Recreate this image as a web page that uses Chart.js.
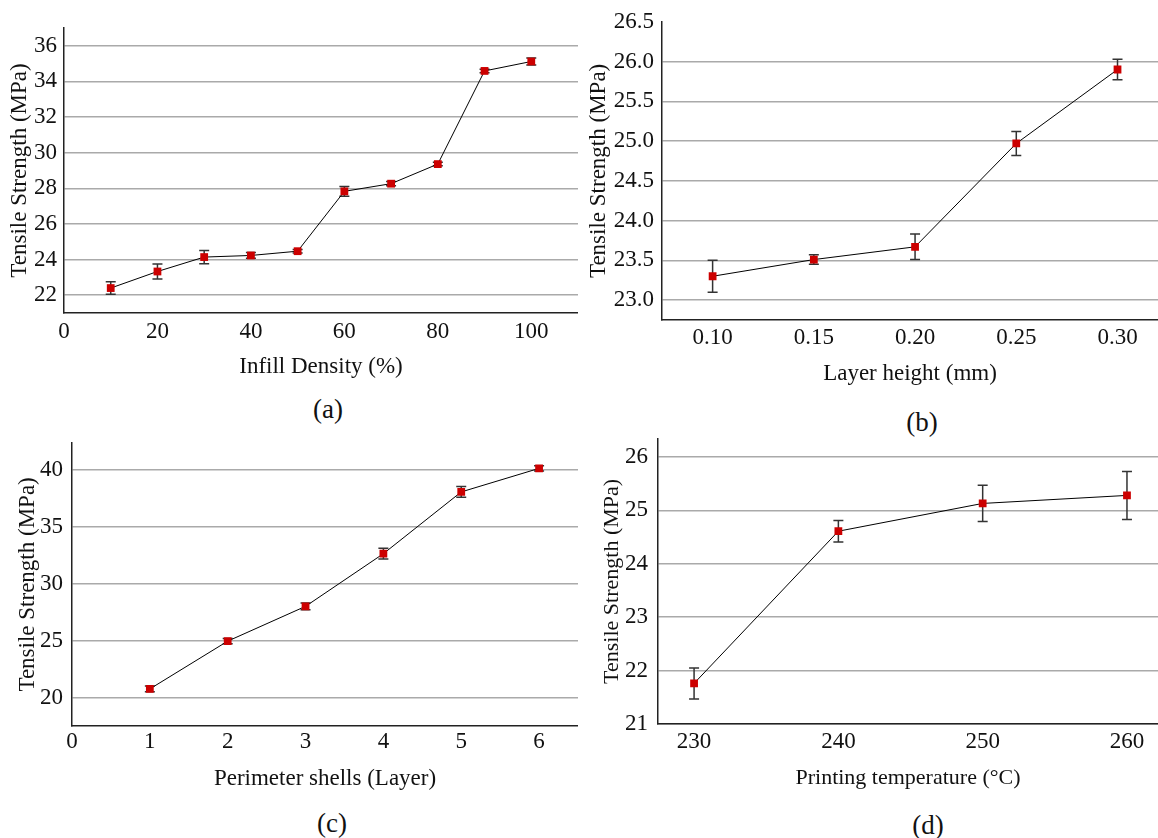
<!DOCTYPE html>
<html>
<head>
<meta charset="utf-8">
<script src="https://cdn.jsdelivr.net/npm/chart.js@4/dist/chart.umd.min.js"></script>
<style>
  body { margin: 0; background: #fff; }
  #page { position: relative; width: 1158px; height: 838px; overflow: hidden; }
  canvas { position: absolute; }
  .tag { position: absolute; font-family: "Liberation Serif", "Times New Roman", serif; font-size: 27px;
         line-height: 1; color: #111; transform: translate(-50%, -50%); }
</style>
</head>
<body>
<div id="page">
  <div class="tag" style="left:328px; top:409px;">(a)</div>
  <div class="tag" style="left:922px; top:422px;">(b)</div>
  <div class="tag" style="left:332px; top:823px;">(c)</div>
  <div class="tag" style="left:928px; top:825px;">(d)</div>
  <canvas id="chartA" width="578" height="381" style="left:0; top:0;"></canvas>
  <canvas id="chartB" width="578" height="388" style="left:580px; top:0;"></canvas>
  <canvas id="chartC" width="578" height="373" style="left:0; top:420px;"></canvas>
  <canvas id="chartD" width="578" height="376" style="left:580px; top:415px;"></canvas>
</div>
<script>
// (a) infill density
const infillDensity = [10, 20, 30, 40, 50, 60, 70, 80, 90, 100];
const infillStrength = [22.40, 23.33, 24.14, 24.23, 24.47, 27.83, 28.26, 29.36, 34.59, 35.12];
const infillError = [0.35, 0.42, 0.37, 0.16, 0.10, 0.27, 0.12, 0.10, 0.10, 0.20];
const infillTicks = [0, 20, 40, 60, 80, 100];
const infillStrengthTicks = [22, 24, 26, 28, 30, 32, 34, 36];

// (b) layer height
const layerHeight = [0.10, 0.15, 0.20, 0.25, 0.30];
const layerStrength = [23.30, 23.51, 23.67, 24.97, 25.90];
const layerError = [0.20, 0.06, 0.16, 0.15, 0.13];
const layerTicks = [0.10, 0.15, 0.20, 0.25, 0.30];
const layerStrengthTicks = [23.0, 23.5, 24.0, 24.5, 25.0, 25.5, 26.0, 26.5];

// (c) perimeter shells
const shells = [1, 2, 3, 4, 5, 6];
const shellStrength = [20.76, 24.96, 28.02, 32.65, 38.08, 40.15];
const shellError = [0.25, 0.23, 0.29, 0.47, 0.47, 0.23];
const shellTicks = [0, 1, 2, 3, 4, 5, 6];
const shellStrengthTicks = [20, 25, 30, 35, 40];

// (d) printing temperature
const temperature = [230, 240, 250, 260];
const tempStrength = [21.76, 24.61, 25.13, 25.28];
const tempError = [0.29, 0.20, 0.34, 0.45];
const tempTicks = [230, 240, 250, 260];
const tempStrengthTicks = [21, 22, 23, 24, 25, 26];

Chart.defaults.font.family = "'Liberation Serif', 'Times New Roman', serif";
Chart.defaults.color = "#111";
Chart.defaults.animation = false;

// error bars drawn behind the line and markers
const errorBars = {
  id: "errorBars",
  beforeDatasetsDraw(chart) {
    const { ctx, scales: { x, y } } = chart;
    chart.data.datasets.forEach((ds) => {
      if (!ds.errors) return;
      ctx.save();
      ctx.strokeStyle = "#333";
      ctx.lineWidth = 1.5;
      ds.data.forEach((p, i) => {
        const px = x.getPixelForValue(p.x);
        const top = y.getPixelForValue(p.y + ds.errors[i]);
        const bot = y.getPixelForValue(p.y - ds.errors[i]);
        ctx.beginPath();
        ctx.moveTo(px, top); ctx.lineTo(px, bot);
        ctx.moveTo(px - 5, top); ctx.lineTo(px + 5, top);
        ctx.moveTo(px - 5, bot); ctx.lineTo(px + 5, bot);
        ctx.stroke();
      });
      ctx.restore();
    });
  },
};

function makeChart(id, xs, ys, errs, opt) {
  const ctx = document.getElementById(id).getContext("2d");
  return new Chart(ctx, {
    type: "line",
    data: {
      datasets: [{
        data: xs.map((v, i) => ({ x: v, y: ys[i] })),
        errors: errs,
        borderColor: "#000",
        borderWidth: 1,
        pointStyle: "rect",
        pointRadius: 5.5,
        pointBackgroundColor: "#cc0000",
        pointBorderColor: "#cc0000",
        pointBorderWidth: 0,
      }],
    },
    options: {
      responsive: false,
      layout: { autoPadding: false, padding: { top: opt.top, left: 0, right: 0, bottom: 0 } },
      plugins: { legend: { display: false }, tooltip: { enabled: false } },
      scales: {
        x: {
          type: "linear",
          min: opt.xMin,
          max: opt.xMax,
          afterBuildTicks: (axis) => { axis.ticks = opt.xTicks.map((v) => ({ value: v })); },
          afterFit: (axis) => { axis.height = opt.xHeight; },
          grid: { display: false, drawTicks: false },
          border: { display: true, color: "#222", width: 1.5 },
          ticks: {
            padding: opt.xPad,
            font: { size: 23 },
            callback: (v) => v.toFixed(opt.xDec),
          },
          title: {
            display: true,
            text: opt.xTitle,
            font: { size: opt.titleSize },
            padding: { top: 0, bottom: 0 },
          },
        },
        y: {
          min: opt.yMin,
          max: opt.yMax,
          afterBuildTicks: (axis) => { axis.ticks = opt.yTicks.map((v) => ({ value: v })); },
          afterFit: (axis) => { axis.width = opt.yWidth; },
          grid: {
            drawTicks: false,
            lineWidth: 1.5,
            color: (c) => (opt.noTopGrid && c.index === opt.yTicks.length - 1 ? "rgba(0,0,0,0)" : "#aaaaaa"),
          },
          border: { display: true, color: "#222", width: 1.5 },
          ticks: {
            padding: opt.yPad,
            font: { size: 23 },
            callback: (v) => v.toFixed(opt.yDec),
          },
          title: {
            display: true,
            text: "Tensile Strength (MPa)",
            font: { size: opt.titleSize },
            padding: { top: opt.yTitlePad, bottom: 0 },
          },
        },
      },
    },
    plugins: [errorBars],
  });
}

window.addEventListener("DOMContentLoaded", () => {
  makeChart("chartA", infillDensity, infillStrength, infillError, {
    xTitle: "Infill Density (%)", xTicks: infillTicks, yTicks: infillStrengthTicks,
    xMin: 0, xMax: 110, yMin: 21, yMax: 37, xDec: 0, yDec: 0,
    top: 28, yWidth: 64, xHeight: 68, xPad: 5, yPad: 7, yTitlePad: 6, titleSize: 23,
  });
  makeChart("chartB", layerHeight, layerStrength, layerError, {
    xTitle: "Layer height (mm)", xTicks: layerTicks, yTicks: layerStrengthTicks,
    xMin: 0.075, xMax: 0.32, yMin: 22.75, yMax: 26.5, xDec: 2, yDec: 1, noTopGrid: true,
    top: 21, yWidth: 82, xHeight: 68, xPad: 4, yPad: 8, yTitlePad: 5, titleSize: 23,
  });
  makeChart("chartC", shells, shellStrength, shellError, {
    xTitle: "Perimeter shells (Layer)", xTicks: shellTicks, yTicks: shellStrengthTicks,
    xMin: 0, xMax: 6.5, yMin: 17.5, yMax: 42.4, xDec: 0, yDec: 0,
    top: 22, yWidth: 72, xHeight: 67, xPad: 2, yPad: 9, yTitlePad: 14, titleSize: 23,
  });
  makeChart("chartD", temperature, tempStrength, tempError, {
    xTitle: "Printing temperature (°C)", xTicks: tempTicks, yTicks: tempStrengthTicks,
    xMin: 227.5, xMax: 262.15, yMin: 21, yMax: 26.34, xDec: 0, yDec: 0,
    top: 20, yWidth: 78, xHeight: 67, xPad: 4, yPad: 10, yTitlePad: 19, titleSize: 22,
  });
});
</script>
</body>
</html>
